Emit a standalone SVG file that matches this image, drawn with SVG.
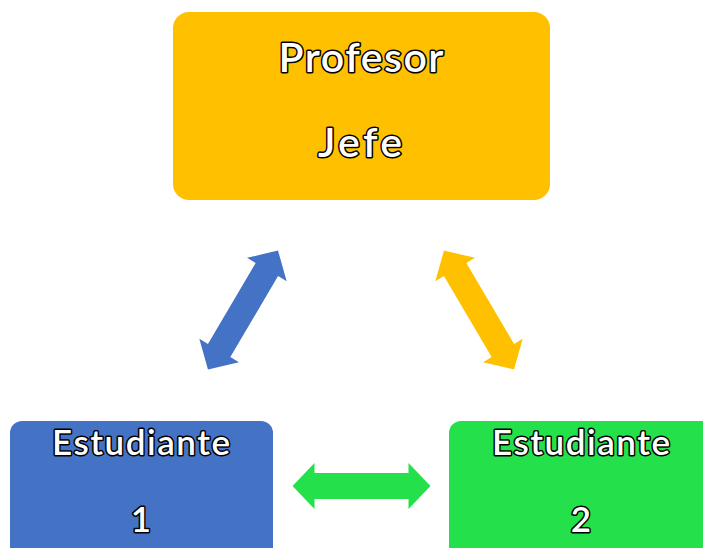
<svg xmlns="http://www.w3.org/2000/svg" width="703" height="548" viewBox="0 0 703 548">
<defs>
<style>
.lbl{font-family:"Lato","Open Sans","Liberation Sans",sans-serif;font-weight:600;fill:#fff;stroke:#000;stroke-width:3;paint-order:stroke;stroke-linejoin:round;text-anchor:middle}
.big{font-size:41px}
.mid{font-size:35px}
</style>
<path id="dbl" d="M-69,0 L-47,-23 L-47,-13 L47,-13 L47,-23 L69,0 L47,23 L47,13 L-47,13 L-47,23 Z"/>
</defs>
<rect width="703" height="548" fill="#fff"/>
<g id="connectors">
<use href="#dbl" fill="#4472C4" transform="translate(243,310) rotate(-59.5)"/>
<use href="#dbl" fill="#FFC000" transform="translate(479,310) rotate(59.5)"/>
<use href="#dbl" fill="#24E14B" transform="translate(361.5,486)"/>
</g>
<g id="profesor">
<rect x="173" y="12" width="377" height="188" rx="16" fill="#FFC000"/>
<text class="lbl big" x="361" y="72" textLength="165" lengthAdjust="spacing">Profesor</text>
<text class="lbl big" x="360" y="157" textLength="84" lengthAdjust="spacing">Jefe</text>
</g>
<g id="estudiante1">
<rect x="10" y="421" width="263" height="150" rx="12" fill="#4472C4"/>
<text class="lbl mid" x="141" y="455" textLength="178" lengthAdjust="spacing">Estudiante</text>
<text class="lbl mid" x="141" y="532">1</text>
</g>
<g id="estudiante2">
<rect x="449" y="421" width="280" height="150" rx="12" fill="#24E14B"/>
<text class="lbl mid" x="581" y="455" textLength="178" lengthAdjust="spacing">Estudiante</text>
<text class="lbl mid" x="581" y="532">2</text>
</g>
</svg>
